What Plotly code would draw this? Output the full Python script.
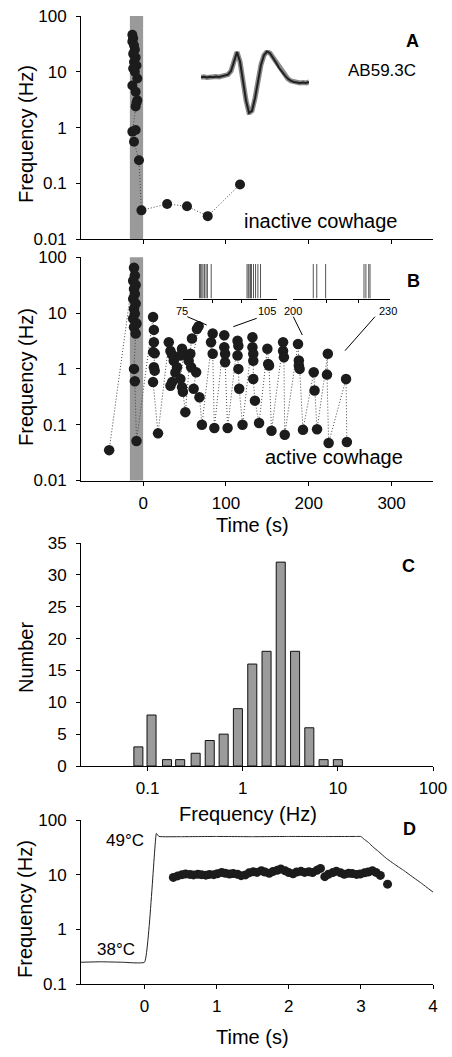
import numpy as np
import plotly.graph_objects as go

# ---------------- data ----------------
# Panel A: inactive cowhage (time s, instantaneous frequency Hz)
a_time = [-13, -12, -13, -11, -10, -12, -9, -11, -8, -12, -10, -7, -13, -9, -7, -9, -8,
          -13, -9, -11, -5, -2, 29, 53, 78, 117]
a_freq = [46, 40, 35, 30, 25, 21, 18, 15, 13, 11.5, 10, 7.6, 5.7, 4.4, 3.1, 2.4, 2.8,
          0.85, 0.91, 0.56, 0.26, 0.033, 0.043, 0.039, 0.026, 0.096]

# spike waveform inset (arbitrary units, one sample per step)
wave = [0, 0.5, -0.3, 0.4, 0, 0.6, 0.3, 1, 1.5, 2.5, 6, 15, 24, 15, -5, -22, -34, -32,
        -20, -3, 12, 21, 24.5, 23, 19, 14, 9, 5, 1.5, -1.5, -3.5, -4.5, -5, -5.5, -5,
        -5.5, -4.5]

# Panel B: active cowhage
b_time = [-41,
          -11, -10, -12, -9, -11, -10, -12, -9, -11, -10, -12, -8, -11, -9, -11, -10, -8,
          12, 13, 13, 12, 14, 13, 14, 12, 18,
          31, 33, 35, 37, 41, 39, 35, 33, 45, 47, 49, 45, 47, 48, 51,
          57, 55, 59, 65, 67, 58, 64, 61, 68, 71,
          84, 82, 84, 86,
          98, 98, 99, 99, 102,
          114, 115, 114, 115, 116, 120,
          132, 132, 133, 133, 133, 135, 140,
          150, 151, 152, 155,
          169, 169, 170, 171,
          187, 188, 188, 189, 193,
          206, 207, 210,
          223, 222, 224,
          245, 246]
b_freq = [0.035,
          65, 47, 38, 32, 27, 22, 18, 14.8, 12, 9.8, 8, 6.5, 5.6, 4.3, 1.0, 0.6, 0.051,
          8.5, 5.0, 3.0, 2.0, 1.9, 1.07, 0.93, 0.58, 0.07,
          3.0, 2.1, 1.8, 1.4, 1.07, 0.86, 0.58, 0.5, 1.74, 2.3, 1.87, 0.66, 0.47, 0.39, 0.168,
          1.87, 1.4, 3.5, 5.2, 5.8, 1.07, 0.87, 0.44, 0.31, 0.1,
          4.3, 3.0, 1.87, 0.087,
          4.0, 2.45, 1.87, 1.32, 0.087,
          3.2, 2.6, 1.74, 1.0, 0.44, 0.1,
          3.7, 2.45, 1.87, 1.4, 0.66, 0.27, 0.107,
          2.3, 1.23, 1.15, 0.078,
          3.0, 2.1, 1.62, 0.066,
          2.8, 1.42, 1.15, 1.0, 0.081,
          0.87, 0.41, 0.083,
          1.87, 0.79, 0.047,
          0.66, 0.049]

# spike raster insets (s)
r1_range = [75, 107]
r1_spikes = [80.7, 81.1, 81.5, 81.9, 82.4, 82.95, 83.4, 84.7,
             96.9, 97.3, 97.6, 98.1, 98.4, 99.1, 99.8, 100.6, 101.5]
r2_range = [199.5, 230]
r2_spikes = [205.8, 206.9, 209.7, 221.8, 222.4, 223.3, 223.7]

stim_window = [-16, 0]

# Panel C: histogram of instantaneous frequency
c_freq = [0.08, 0.11, 0.16, 0.22, 0.32, 0.45, 0.63, 0.89, 1.26, 1.78, 2.51, 3.55, 5.01, 7.08, 10.0]
c_count = [3, 8, 1, 1, 2, 4, 5, 9, 16, 18, 32, 18, 6, 1, 1]

# Panel D: heat response
d_time = [0.40, 0.46, 0.52, 0.57, 0.63, 0.68, 0.74, 0.79, 0.85, 0.90, 0.96, 1.01, 1.07,
          1.12, 1.18, 1.23, 1.29, 1.34, 1.40, 1.45, 1.51, 1.56, 1.62, 1.67, 1.73, 1.78,
          1.84, 1.89, 1.95, 2.00, 2.06, 2.11, 2.17, 2.22, 2.28, 2.33, 2.39, 2.44, 2.50,
          2.55, 2.61, 2.66, 2.72, 2.77, 2.83, 2.88, 2.94, 2.99, 3.05, 3.10, 3.16, 3.21,
          3.27, 3.37]
d_freq = [8.9, 9.5, 10.0, 10.3, 10.1, 9.9, 10.2, 10.0, 9.8, 10.1, 10.0, 10.4, 11.0,
          10.6, 10.3, 10.5, 10.2, 9.6, 9.9, 10.8, 11.3, 11.0, 11.8, 11.2, 10.6, 11.4,
          12.0, 12.7, 11.8, 10.9, 10.4, 11.2, 11.5, 11.0, 11.3, 10.9, 12.0, 13.0, 9.2,
          10.2, 10.9, 11.6, 10.8, 10.2, 10.6, 10.5, 10.1, 10.3, 10.8, 11.2, 11.8, 11.0,
          9.7, 6.7]
temp_time = [-0.88, -0.6, -0.3, 0.0, 0.165, 0.2, 0.5, 1.0, 1.5, 2.0, 2.5, 2.95, 3.0,
             3.05, 3.107, 3.17, 3.247, 3.35, 3.479, 3.6, 3.712, 3.85, 4.0]
temp_val = [0.25, 0.255, 0.25, 0.25, 57, 50, 49.5, 50, 49.5, 50, 49.8, 50, 50,
            44, 38.6, 32, 26.4, 20, 15.1, 11.8, 9.2, 6.8, 4.8]

# ---------------- layout helpers ----------------
W, H = 452, 1057
ML, MR, MT, MB = 81, 19, 16, 73
PW, PH = W - ML - MR, H - MT - MB


def px(x):
    return (x - ML) / PW


def py(y):
    return (H - MB - y) / PH


FONT = "Liberation Sans, Arial, Helvetica, sans-serif"
DOT_COLOR = "#1c1c1c"
LINK = dict(color="#444", width=1, dash="1px,2px")

fig = go.Figure()

# Panel A
fig.add_trace(go.Scatter(x=a_time, y=a_freq, mode="lines+markers", xaxis="x", yaxis="y",
                         line=LINK, marker=dict(size=10, color=DOT_COLOR), showlegend=False))
# waveform inset
fig.add_trace(go.Scatter(x=list(range(len(wave))), y=wave, mode="lines", xaxis="x5", yaxis="y5",
                         line=dict(color="#8a8a8a", width=5), showlegend=False))
fig.add_trace(go.Scatter(x=list(range(len(wave))), y=wave, mode="lines", xaxis="x5", yaxis="y5",
                         line=dict(color="#202020", width=2), showlegend=False))

# Panel B
fig.add_trace(go.Scatter(x=b_time, y=b_freq, mode="lines+markers", xaxis="x2", yaxis="y2",
                         line=LINK, marker=dict(size=10.5, color=DOT_COLOR), showlegend=False))


def raster(spikes):
    xs, ys = [], []
    for s in spikes:
        xs += [s, s, None]
        ys += [0, 1, None]
    return xs, ys


rx, ry = raster(r1_spikes)
fig.add_trace(go.Scatter(x=rx, y=ry, mode="lines", xaxis="x6", yaxis="y6",
                         line=dict(color="#555", width=1), showlegend=False))
rx, ry = raster(r2_spikes)
fig.add_trace(go.Scatter(x=rx, y=ry, mode="lines", xaxis="x7", yaxis="y7",
                         line=dict(color="#555", width=1), showlegend=False))

# Panel C
fig.add_trace(go.Bar(x=np.log10(c_freq), y=c_count, xaxis="x3", yaxis="y3", width=0.095,
                     marker=dict(color="#9b9b9b", line=dict(color="#111", width=1)),
                     showlegend=False))

# Panel D
fig.add_trace(go.Scatter(x=temp_time, y=temp_val, mode="lines", xaxis="x4", yaxis="y4",
                         line=dict(color="#222", width=1, shape="spline", smoothing=0.3),
                         showlegend=False))
fig.add_trace(go.Scatter(x=d_time, y=d_freq, mode="markers", xaxis="x4", yaxis="y4",
                         marker=dict(size=9, color=DOT_COLOR), showlegend=False))

axis_common = dict(showline=True, linecolor="black", linewidth=1, ticks="outside",
                   ticklen=4, tickcolor="black", showgrid=False, zeroline=False,
                   tickfont=dict(family=FONT, size=17, color="black"))
yax = dict(axis_common, ticklabelstandoff=6)
xax = dict(axis_common, ticklabelstandoff=3)

log_ticks = dict(tickvals=[0.01, 0.1, 1, 10, 100], ticktext=["0.01", "0.1", "1", "10", "100"])

layout = dict(
    width=W, height=H, margin=dict(l=ML, r=MR, t=MT, b=MB, autoexpand=False),
    paper_bgcolor="white", plot_bgcolor="white",
    font=dict(family=FONT, color="black"),
    xaxis=dict(xax, domain=[0, 1], range=[-75, 350], tickvals=[0, 100, 200, 300],
               showticklabels=False, anchor="y"),
    yaxis=dict(yax, domain=[py(239.3), 1.0], type="log", range=[-2, 2],
               anchor="x", **log_ticks),
    xaxis2=dict(xax, domain=[0, 1], range=[-75, 350], tickvals=[0, 100, 200, 300],
                anchor="y2"),
    yaxis2=dict(yax, domain=[py(480.5), py(257.3)], type="log", range=[-2, 2],
                anchor="x2", **log_ticks),
    xaxis3=dict(xax, domain=[0, 1], range=[-1.7, 2.0], tickvals=[-1, 0, 1, 2],
                ticktext=["0.1", "1", "10", "100"], anchor="y3"),
    yaxis3=dict(yax, domain=[py(766), py(543)], range=[0, 35], dtick=5, anchor="x3"),
    xaxis4=dict(xax, domain=[0, 1], range=[-0.88, 4], dtick=1, anchor="y4"),
    yaxis4=dict(yax, domain=[0, py(820)], type="log", range=[-1, 2], anchor="x4",
                tickvals=[0.1, 1, 10, 100], ticktext=["0.1", "1", "10", "100"]),
    xaxis5=dict(domain=[px(201), px(309)], range=[0, len(wave) - 1], visible=False, anchor="y5"),
    yaxis5=dict(domain=[py(115), py(50)], range=[-36, 26], visible=False, anchor="x5"),
    xaxis6=dict(domain=[px(182.7), px(276.7)], range=r1_range, showline=True, linecolor="black",
                linewidth=1, ticks="outside", ticklen=3, tickcolor="black", tickvals=[85, 95],
                showticklabels=False, showgrid=False, zeroline=False, anchor="y6"),
    yaxis6=dict(domain=[py(298.5), py(264)], range=[0, 1], visible=False, anchor="x6"),
    xaxis7=dict(domain=[px(293.3), px(390)], range=r2_range, showline=True, linecolor="black",
                linewidth=1, ticks="outside", ticklen=3, tickcolor="black", tickvals=[210, 220],
                showticklabels=False, showgrid=False, zeroline=False, anchor="y7"),
    yaxis7=dict(domain=[py(298.5), py(264)], range=[0, 1], visible=False, anchor="x7"),
)
fig.update_layout(**layout)

# stimulus shading
for xr, yr in (("x", "y domain"), ("x2", "y2 domain")):
    fig.add_shape(type="rect", xref=xr, yref=yr, x0=stim_window[0], x1=stim_window[1],
                  y0=0, y1=1, fillcolor="#9a9a9a", line=dict(width=0), layer="below")

# leader lines for raster insets (decoration, pixel positions)
leaders = [((187.3, 316.7), (206.7, 325)), ((256.7, 318.3), (233.3, 326.7)),
           ((293.3, 316.7), (302.3, 335)), ((375, 316.7), (345, 350.7))]
for (xa, ya), (xb, yb) in leaders:
    fig.add_shape(type="line", xref="paper", yref="paper", x0=px(xa), y0=py(ya),
                  x1=px(xb), y1=py(yb), line=dict(color="black", width=1))


def label(text, x, y, size, bold=False, angle=0, xanchor="center"):
    fig.add_annotation(text=f"<b>{text}</b>" if bold else text, x=px(x), y=py(y),
                       xref="paper", yref="paper", showarrow=False, textangle=angle,
                       xanchor=xanchor, yanchor="middle",
                       font=dict(family=FONT, size=size, color="black"))


label("A", 412, 41, 18, bold=True)
label("B", 413, 281, 18, bold=True)
label("C", 408, 566, 18, bold=True)
label("D", 409, 829, 18, bold=True)
label("AB59.3C", 382, 71, 17)
label("inactive cowhage", 320, 221, 20)
label("active cowhage", 334, 457, 20)
label("75", 182, 311, 11)
label("105", 267, 311, 11)
label("200", 293, 311, 11)
label("230", 388, 311, 11)
label("49°C", 125, 840, 17)
label("38°C", 116, 949, 17)

# axis titles
label("Frequency (Hz)", 26, 134, 20, angle=-90)
label("Frequency (Hz)", 26, 377, 20, angle=-90)
label("Number", 26, 658, 20, angle=-90)
label("Frequency (Hz)", 25, 909, 20, angle=-90)
label("Time (s)", 252, 525, 20)
label("Frequency (Hz)", 248, 814, 20)
label("Time (s)", 252, 1037, 20)

fig.write_html("out.html", config={"displayModeBar": False, "staticPlot": True},
               post_script="document.body.style.margin='0';document.body.style.padding='0';")
